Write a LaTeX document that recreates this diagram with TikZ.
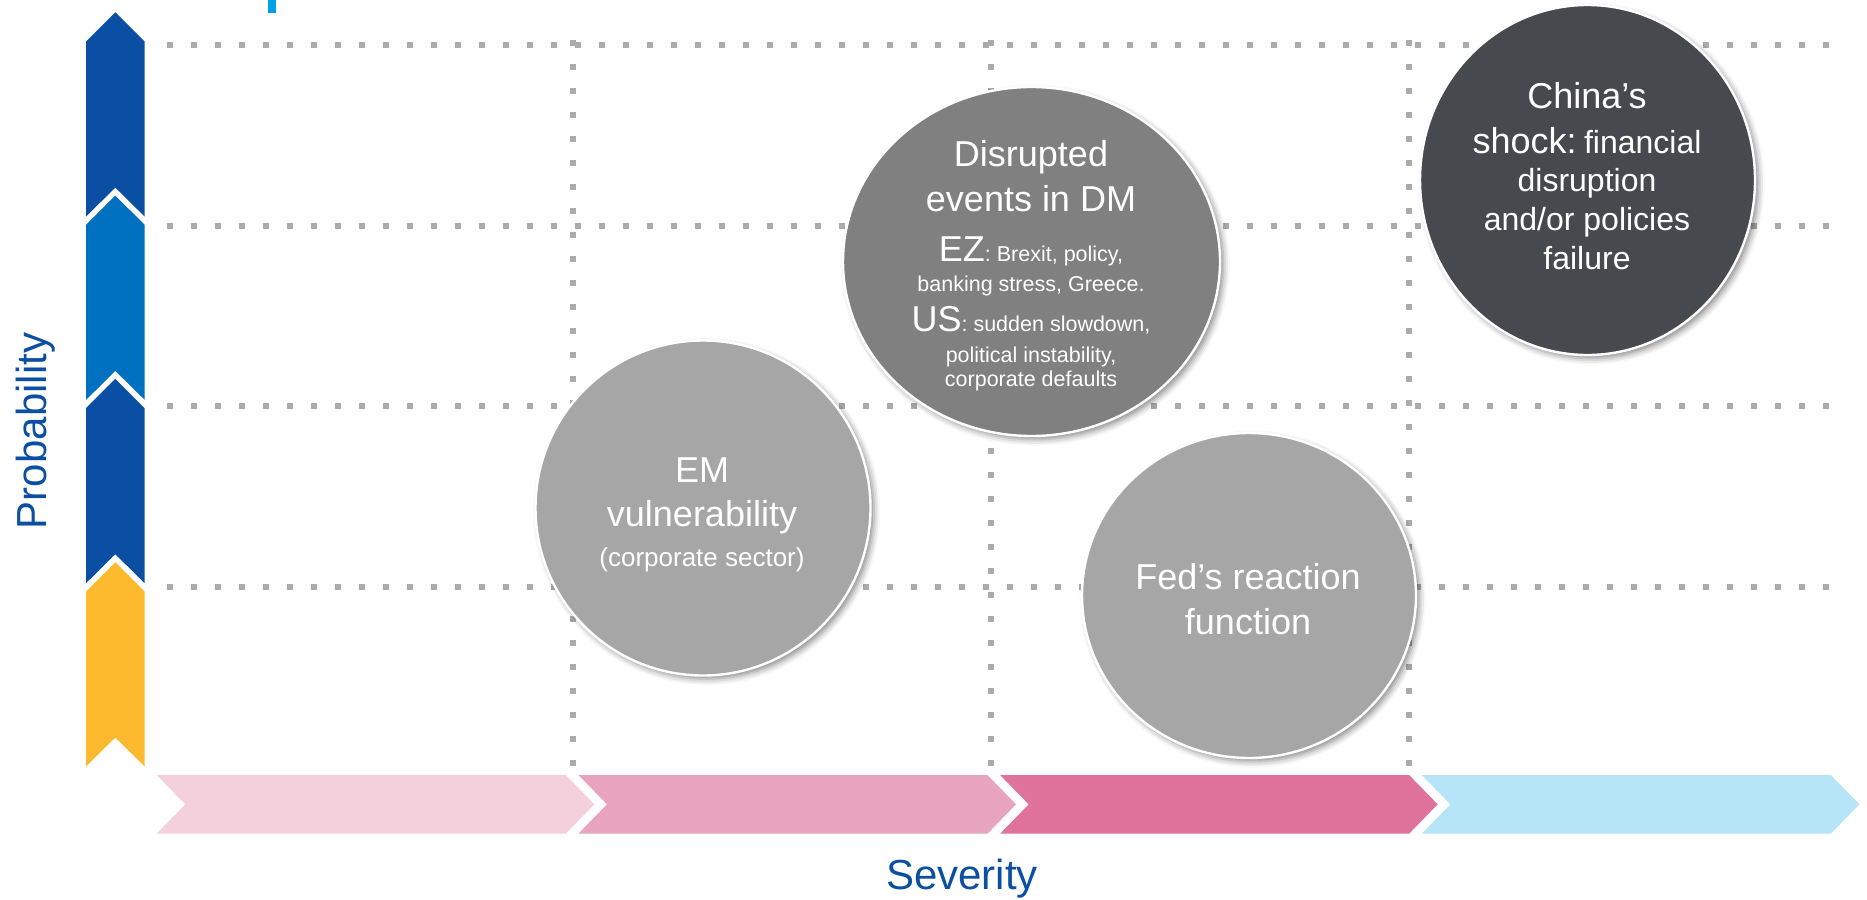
\documentclass[tikz,border=0pt]{standalone}
\usepackage{fontspec}
\setmainfont{Liberation Sans}
\usetikzlibrary{shapes.geometric,shadows.blur}

\definecolor{griddotc}{HTML}{ABABAB}
\definecolor{navyseg}{HTML}{0A4FA3}
\definecolor{blueseg}{HTML}{0070C0}
\definecolor{amberseg}{HTML}{FDBA2F}
\definecolor{pinkA}{HTML}{F4D0DD}
\definecolor{pinkB}{HTML}{E8A3BD}
\definecolor{pinkC}{HTML}{DF739C}
\definecolor{skyseg}{HTML}{B5E5F7}
\definecolor{bubbleLight}{HTML}{A6A6A6}
\definecolor{bubbleMid}{HTML}{808080}
\definecolor{bubbleDark}{HTML}{46494E}
\definecolor{axisblue}{HTML}{0B4FA2}
\definecolor{tickblue}{HTML}{00A1E6}

\newcommand\txtL{\fontsize{18}{21.6}\selectfont}
\newcommand\txtM{\fontsize{16}{19}\selectfont}
\newcommand\txtS{\fontsize{10.75}{12.5}\selectfont}
\newcommand\txtEM{\fontsize{13}{15.6}\selectfont}

\begin{document}
\begin{tikzpicture}[x=0.5pt,y=-0.5pt,
  griddot/.style={draw=griddotc,line width=3pt,dash pattern=on 3pt off 9pt},
  bubble/.style={shape=ellipse,draw=white,line width=1.2pt,inner sep=0pt,
    blur shadow={shadow xshift=1.8pt,shadow yshift=-1.8pt,shadow opacity=45,shadow blur radius=3pt}},
  btext/.style={anchor=base,text=white,inner sep=0pt},
  axislabel/.style={anchor=base,text=axisblue,font=\fontsize{21}{25}\selectfont,inner sep=0pt}]
\useasboundingbox (0,0) rectangle (1867,899);

% small title tick
\fill[tickblue] (268,0) rectangle (276,13);

% dotted grid
\foreach \yy in {45.5,226,406,587}
  \draw[griddot] (166.7,\yy) -- (1834,\yy);
\foreach \xx in {573,991,1409}
  \draw[griddot] (\xx,39.7) -- (\xx,768);

% probability scale (chevrons pointing up)
\foreach \k/\c in {0/navyseg,1/blueseg,2/navyseg,3/amberseg}{
  \pgfmathsetmacro\tp{12.3+183.3*\k}
  \fill[\c] (86,\tp+29.3) -- (115.3,\tp) -- (144.7,\tp+29.3) -- (144.7,\tp+204.3)
    -- (115.3,\tp+175.3) -- (86,\tp+204.3) -- cycle;
}

% severity scale (chevrons pointing right)
\foreach \j/\c in {0/pinkA,1/pinkB,2/pinkC,3/skyseg}{
  \pgfmathsetmacro\lf{156.7+421.7*\j}
  \fill[\c] (\lf,775) -- (\lf+409,775) -- (\lf+437.6,804.3) -- (\lf+409,833.7)
    -- (\lf,833.7) -- (\lf+28.6,804.3) -- cycle;
}

% risk bubbles
\node[bubble,fill=bubbleLight,minimum width=167.5pt,minimum height=167.5pt] (em) at (703,508) {};
\node[bubble,fill=bubbleMid,minimum width=188.5pt,minimum height=174.5pt] (dm) at (1031.5,261.5) {};
\node[bubble,fill=bubbleLight,minimum width=167pt,minimum height=162.5pt] (fed) at (1249,595.5) {};
\node[bubble,fill=bubbleDark,minimum width=167.5pt,minimum height=175pt] (cn) at (1587.5,180) {};

% bubble texts
\node[btext,font=\txtL] (em1) at (702,482.7) {EM};
\node[btext,font=\txtL] (em2) at (702,526.7) {vulnerability};
\node[btext,font=\txtEM] (em3) at (702,566.7) {(corporate sector)};

\node[btext,font=\txtL] (dm1) at (1031,166) {Disrupted};
\node[btext,font=\txtL] (dm2) at (1031,211) {events in DM};
\node[btext] (dm3) at (1031,261.7) {{\txtL EZ}{\txtS: Brexit, policy,}};
\node[btext,font=\txtS] (dm4) at (1031,291.7) {banking stress, Greece.};
\node[btext] (dm5) at (1031,331.7) {{\txtL US}{\txtS: sudden slowdown,}};
\node[btext,font=\txtS] (dm6) at (1031,362.7) {political instability,};
\node[btext,font=\txtS] (dm7) at (1031,386.7) {corporate defaults};

\node[btext,font=\txtL] (fed1) at (1248,589.3) {Fed’s reaction};
\node[btext,font=\txtL] (fed2) at (1248,634) {function};

\node[btext,font=\txtL] (cn1) at (1587,108.3) {China’s};
\node[btext] (cn2) at (1587,153.3) {{\txtL shock:} {\txtM financial}};
\node[btext,font=\txtM] (cn3) at (1587,191.7) {disruption};
\node[btext,font=\txtM] (cn4) at (1587,230) {and/or policies};
\node[btext,font=\txtM] (cn5) at (1587,269.3) {failure};

% axis titles
\node[axislabel,rotate=90] (prob) at (46.7,431) {Probability};
\node[axislabel] (sev) at (962,889) {Severity};
\end{tikzpicture}
\end{document}
